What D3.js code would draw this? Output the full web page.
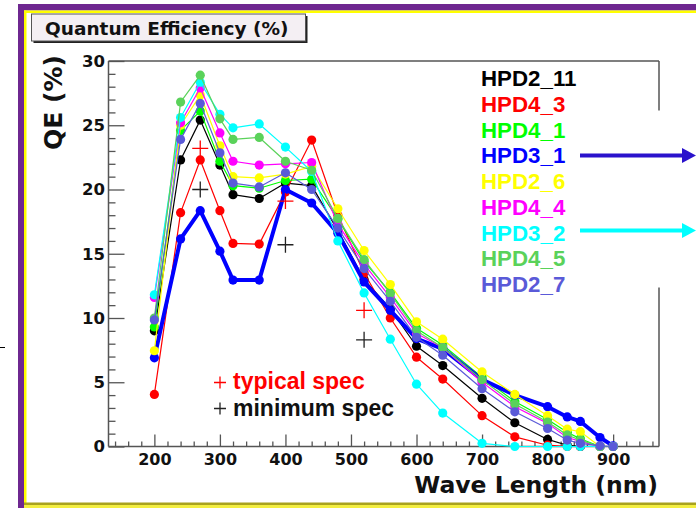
<!DOCTYPE html>
<html><head><meta charset="utf-8">
<script src="https://cdn.jsdelivr.net/npm/d3@7"></script>
<style>html,body{margin:0;padding:0;background:#fff;}svg{display:block;}</style>
</head><body>
<svg id="c" width="696" height="508"></svg>
<script>
// ---------- data ----------
const wavelengths = [200,240,270,300,320,360,400,440,480,520,560,600,640,700,750,800,830,850,880,900];
const seriesNames = ["HPD2_11","HPD4_3","HPD4_1","HPD3_1","HPD2_6","HPD4_4","HPD3_2","HPD4_5","HPD2_7"];
const seriesColors = ["#000000","#ff0000","#00ff00","#0000ff","#ffff00","#ff00ff","#00ffff","#5ad25a","#5a5ad8"];
const hpd2_11 = [9.0,22.3,25.4,21.9,19.6,19.3,20.5,20.3,16.8,13.0,10.7,7.8,6.3,3.75,1.85,0.55,0.1,0,0,0];
const hpd4_3  = [4.05,18.2,22.3,18.35,15.8,15.75,19.8,23.85,18.0,13.5,10.0,6.95,5.25,2.4,0.75,0.1,0,0,0,0];
const hpd4_1  = [9.3,24.6,26.1,22.2,20.3,20.1,20.7,20.8,17.7,14.4,12.0,9.2,7.9,5.4,3.5,2.1,1.1,0.6,0,0];
const hpd3_1  = [6.9,16.15,18.35,15.2,12.95,12.95,20.0,18.95,16.6,12.8,10.6,8.4,7.6,5.2,4.0,3.1,2.3,1.95,0.7,0.05];
const hpd2_6  = [7.45,25.0,27.35,23.4,21.0,20.9,21.2,21.8,18.5,15.25,12.6,9.7,8.35,5.8,4.05,2.4,1.35,1.15,0,0];
const hpd4_4  = [11.6,25.2,27.9,24.4,22.2,21.9,22.0,22.1,17.3,14.2,11.6,8.8,7.7,5.0,3.1,1.8,0.7,0.4,0,0];
const hpd3_2  = [11.8,25.6,28.35,25.85,24.8,25.1,23.3,21.4,16.0,11.95,8.35,4.85,2.6,0.25,0,0,0,0,0,0];
const hpd4_5  = [10.0,26.8,28.9,25.5,23.9,24.05,22.2,21.5,17.75,14.55,11.9,9.0,7.7,5.2,3.3,1.9,0.9,0.5,0,0];
const hpd2_7  = [9.85,23.9,26.7,22.85,20.5,20.2,21.3,20.0,17.0,13.85,11.3,8.5,7.1,4.5,2.7,1.4,0.5,0.25,0.05,0];
const seriesValues = [hpd2_11,hpd4_3,hpd4_1,hpd3_1,hpd2_6,hpd4_4,hpd3_2,hpd4_5,hpd2_7];
const specWavelengths = [270,400,520];
const typicalSpec = [23.2,19.1,10.6];
const minimumSpec = [20.0,15.7,8.3];
const xMajorTicks = [200,300,400,500,600,700,800,900];
const yMajorTicks = [0,5,10,15,20,25,30];

// ---------- setup ----------
const svg = d3.select("#c");
const x = d3.scaleLinear().domain([130,970]).range([108.5,659]);
const y = d3.scaleLinear().domain([0,30]).range([446.5,61]);
const AX = "'DejaVu Sans', sans-serif";
const LG = "'Liberation Sans', Arial, sans-serif";

// outer decorative border
svg.append("rect").attr("x",0).attr("y",0).attr("width",696).attr("height",508).attr("fill","#fff");
svg.append("rect").attr("x",18).attr("y",4).attr("width",678).attr("height",6.5).attr("fill","#6e2790");
svg.append("rect").attr("x",24).attr("y",10.5).attr("width",672).attr("height",2.5).attr("fill","#ffff00");
svg.append("rect").attr("x",18).attr("y",4).attr("width",6).attr("height",504).attr("fill","#6e2790");
svg.append("rect").attr("x",24).attr("y",10.5).attr("width",2.5).attr("height",498).attr("fill","#ffff00");
svg.append("rect").attr("x",24).attr("y",502.5).attr("width",672).attr("height",2.5).attr("fill","#a9a21e");
svg.append("rect").attr("x",24).attr("y",505).attr("width",672).attr("height",3).attr("fill","#f3ee40");
svg.append("line").attr("x1",0).attr("x2",5).attr("y1",347.5).attr("y2",347.5).attr("stroke","#000").attr("stroke-width",1);

// title box
svg.append("rect").attr("x",33.5).attr("y",16).attr("width",274).attr("height",27).attr("fill","#222");
svg.append("rect").attr("x",31.5).attr("y",14).attr("width",274).attr("height",27)
  .attr("fill","#f4eff3").attr("stroke","#555").attr("stroke-width",1);
svg.append("text").attr("x",45).attr("y",35).attr("font-family",AX).attr("font-weight","bold")
  .attr("font-size",18.5).attr("fill","#111").text("Quantum Efficiency (%)");

// axes: minor ticks
const tickColor = "#555";
const xMinor = d3.range(140,961,20).filter(v=>xMajorTicks.indexOf(v)<0);
const yMinor = d3.range(0,31,1).filter(v=>yMajorTicks.indexOf(v)<0);
const gxm = svg.append("g").attr("transform",`translate(0,${y(0)})`)
  .call(d3.axisBottom(x).tickValues(xMinor).tickFormat("").tickSizeInner(-5).tickSizeOuter(0));
const gym = svg.append("g").attr("transform",`translate(${x(130)},0)`)
  .call(d3.axisLeft(y).tickValues(yMinor).tickFormat("").tickSizeInner(-7).tickSizeOuter(0));
const gx = svg.append("g").attr("transform",`translate(0,${y(0)})`)
  .call(d3.axisBottom(x).tickValues(xMajorTicks).tickFormat(d3.format("d")).tickSizeInner(-12).tickSizeOuter(0).tickPadding(7.5));
const gy = svg.append("g").attr("transform",`translate(${x(130)},0)`)
  .call(d3.axisLeft(y).tickValues(yMajorTicks).tickFormat(d3.format("d")).tickSizeInner(-16).tickSizeOuter(0).tickPadding(3.5));
[gxm,gym,gx,gy].forEach(g=>{
  g.select(".domain").remove();
  g.selectAll(".tick line").attr("stroke",tickColor).attr("stroke-width",1.3);
  g.selectAll("text").attr("font-family",AX).attr("font-weight","bold").attr("fill","#111");
});
gx.selectAll("text").attr("font-size",16);
gy.selectAll("text").attr("font-size",16.5);

// frame
const fr = svg.append("g").attr("stroke","#555").attr("stroke-width",1.5).attr("fill","none");
fr.append("line").attr("x1",x(130)).attr("x2",x(130)).attr("y1",y(30)).attr("y2",y(0));
fr.append("line").attr("x1",x(130)).attr("x2",x(970)).attr("y1",y(0)).attr("y2",y(0));
fr.append("line").attr("x1",x(130)).attr("x2",x(970)).attr("y1",y(30)).attr("y2",y(30));
fr.append("line").attr("x1",x(970)).attr("x2",x(970)).attr("y1",y(30)).attr("y2",110.5);
fr.append("line").attr("x1",x(970)).attr("x2",x(970)).attr("y1",287.5).attr("y2",y(0));

// axis titles
svg.append("text").attr("transform",`translate(62,102.5) rotate(-90)`).attr("text-anchor","middle")
  .attr("font-family",AX).attr("font-weight","bold").attr("font-size",25).attr("fill","#111").text("QE (%)");
svg.append("text").attr("x",658).attr("y",493).attr("text-anchor","end")
  .attr("font-family",AX).attr("font-weight","bold").attr("font-size",23.5).attr("fill","#111").text("Wave Length (nm)");

// series
const line = d3.line().x((d,i)=>x(wavelengths[i])).y(d=>y(d));
seriesValues.forEach((vals,k)=>{
  const g = svg.append("g");
  const thick = seriesNames[k]==="HPD3_1";
  g.append("path").datum(vals).attr("d",line).attr("fill","none")
    .attr("stroke",seriesColors[k]).attr("stroke-width",thick?4:1.2).attr("stroke-linejoin","round");
  g.selectAll("circle").data(vals).join("circle")
    .attr("cx",(d,i)=>x(wavelengths[i])).attr("cy",d=>y(d)).attr("r",4.6).attr("fill",seriesColors[k]);
});

// spec markers
function plus(g, cx, cy, s, color){
  g.append("path").attr("d",`M${cx-s/2},${cy}H${cx+s/2}M${cx},${cy-s/2}V${cy+s/2}`)
    .attr("stroke",color).attr("stroke-width",1.3).attr("fill","none");
}
const sg = svg.append("g");
specWavelengths.forEach((w,i)=>{
  plus(sg, x(w), y(typicalSpec[i]), 16, "#ff0000");
  plus(sg, x(w), y(minimumSpec[i]), 16, "#222");
});

// spec legend
plus(sg, 220, 382.5, 12, "#ff0000");
plus(sg, 220, 408.5, 12, "#222");
svg.append("text").attr("x",233).attr("y",389).attr("font-family",LG).attr("font-weight","bold")
  .attr("font-size",23).attr("fill","#ff0000").text("typical spec");
svg.append("text").attr("x",233).attr("y",415.5).attr("font-family",LG).attr("font-weight","bold")
  .attr("font-size",23).attr("fill","#111").text("minimum spec");

// series legend
seriesNames.forEach((n,i)=>{
  svg.append("text").attr("x",481).attr("y",86+i*25.75).attr("font-family",LG).attr("font-weight","bold")
    .attr("font-size",22.3).attr("fill",seriesColors[i]).text(n);
});

// arrows
function arrow(yy, color){
  svg.append("line").attr("x1",580).attr("x2",684).attr("y1",yy).attr("y2",yy)
    .attr("stroke",color).attr("stroke-width",4);
  svg.append("path").attr("d",`M682,${yy-7.5}L696,${yy}L682,${yy+7.5}Z`).attr("fill",color);
}
arrow(155.5, "#2a12cc");
arrow(230.5, "#00ffff");
</script>
</body></html>
